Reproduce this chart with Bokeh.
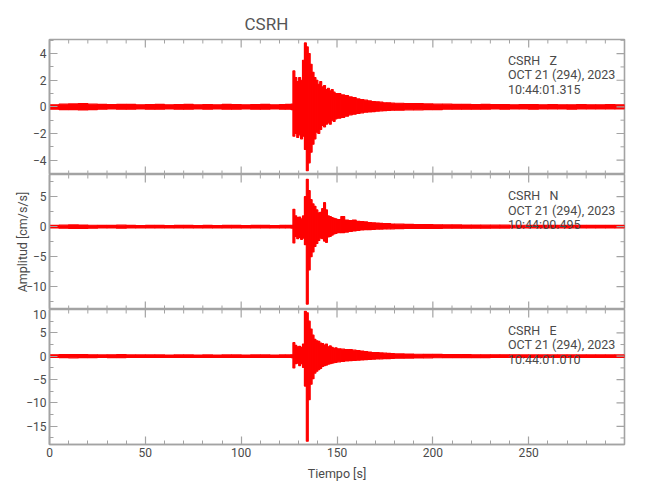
import math
from bokeh.plotting import figure
from bokeh.layouts import column
from bokeh.models import Range1d, FixedTicker, LinearAxis, Label, Title
from bokeh.embed import file_html
from bokeh.resources import INLINE

# ---------------- data (min / max envelope of each trace per time bin) ----------------
t_edges = [0, 5, 10, 15, 20, 25, 30, 35, 40, 45, 50, 55, 60, 65, 70, 75, 80, 85, 90, 95,
           100, 105, 110, 115, 120, 123, 126,
           127, 128, 129, 130, 131, 132, 133, 134, 135, 136, 137, 138, 139, 140, 141, 142,
           143, 144, 145, 146, 147, 148, 149, 150,
           152, 154, 156, 158, 160, 162, 164, 166, 168, 170, 172, 174, 176, 178, 180,
           185, 190, 195, 200, 205, 210, 215, 220, 225, 230, 235, 240, 245, 250, 255,
           260, 265, 270, 275, 280, 285, 290, 295, 300]

z_hi = [0.16, 0.2, 0.22, 0.24, 0.2, 0.18, 0.17, 0.19, 0.18, 0.16, 0.17, 0.18, 0.16, 0.17, 0.18, 0.16,
        0.17, 0.16, 0.18, 0.17, 0.16, 0.17, 0.18, 0.16,
        0.17, 0.18, 0.2,
        2.7, 2.2, 1.9, 2.2, 2.0, 3.5, 4.8, 4.5, 4.0, 3.2, 2.6, 2.2, 2.0, 1.7, 1.9, 1.5, 1.6, 1.3,
        1.4, 1.2, 1.3, 1.1, 1.0,
        1.0, 0.9, 0.85, 0.75, 0.7, 0.6, 0.55, 0.5, 0.45, 0.4, 0.38, 0.35, 0.3, 0.3, 0.28,
        0.27, 0.25, 0.24, 0.22, 0.2, 0.2, 0.18, 0.18, 0.17, 0.18, 0.17, 0.17, 0.16, 0.17, 0.17,
        0.16, 0.17, 0.16, 0.16, 0.17, 0.16, 0.16, 0.17, 0.16]
z_lo = [-0.17, -0.2, -0.21, -0.23, -0.2, -0.18, -0.16, -0.18, -0.17, -0.16, -0.18, -0.17, -0.16,
        -0.18, -0.17, -0.16, -0.17, -0.16, -0.17, -0.18, -0.16, -0.17, -0.17, -0.16,
        -0.17, -0.17, -0.2,
        -2.2, -2.0, -2.3, -2.1, -2.4, -2.2, -3.2, -4.8, -4.2, -3.4, -2.8, -2.4, -1.9, -2.0, -1.7,
        -1.4, -1.5, -1.3, -1.2, -1.3, -1.0, -1.1, -0.9,
        -0.85, -0.8, -0.7, -0.6, -0.55, -0.5, -0.45, -0.4, -0.38, -0.35, -0.32, -0.3, -0.28,
        -0.27, -0.25,
        -0.25, -0.22, -0.22, -0.2, -0.2, -0.18, -0.18, -0.17, -0.17, -0.17, -0.16, -0.17, -0.16,
        -0.16, -0.17, -0.16, -0.16, -0.16, -0.17, -0.16, -0.16, -0.16, -0.16, -0.16]

n_hi = [0.22, 0.25, 0.3, 0.28, 0.24, 0.22, 0.23, 0.25, 0.22, 0.2, 0.22, 0.21, 0.2, 0.22, 0.21, 0.2,
        0.22, 0.2, 0.21, 0.22, 0.2, 0.21, 0.22, 0.2,
        0.21, 0.22, 0.24,
        2.9, 1.8, 1.5, 1.6, 1.3, 1.8, 5.0, 7.9, 6.0, 4.5, 3.8, 3.4, 2.8, 2.3, 2.4, 3.0, 4.0, 2.8,
        1.8, 1.7, 1.5, 1.4, 1.3,
        1.2, 1.7, 1.1, 1.0, 1.1, 0.9, 0.85, 0.8, 0.7, 0.65, 0.6, 0.55, 0.5, 0.5, 0.45,
        0.42, 0.4, 0.37, 0.35, 0.32, 0.3, 0.3, 0.28, 0.27, 0.26, 0.25, 0.25, 0.24, 0.24, 0.23,
        0.23, 0.22, 0.23, 0.22, 0.22, 0.22, 0.21, 0.22, 0.21]
n_lo = [-0.22, -0.26, -0.28, -0.27, -0.24, -0.22, -0.22, -0.24, -0.21, -0.2, -0.22, -0.2, -0.21,
        -0.22, -0.2, -0.21, -0.22, -0.2, -0.21, -0.2, -0.21, -0.2, -0.22, -0.21,
        -0.2, -0.22, -0.23,
        -2.7, -1.6, -2.0, -1.8, -2.1, -1.9, -3.0, -12.9, -7.2, -5.0, -4.2, -3.3, -2.8, -2.3, -1.9,
        -2.0, -2.4, -2.6, -1.7, -1.6, -1.4, -1.2, -1.1,
        -1.0, -1.0, -0.9, -0.8, -0.7, -0.6, -0.55, -0.5, -0.5, -0.45, -0.4, -0.4, -0.38, -0.35,
        -0.35,
        -0.33, -0.3, -0.3, -0.28, -0.28, -0.26, -0.25, -0.25, -0.24, -0.24, -0.23, -0.23, -0.22,
        -0.22, -0.22, -0.21, -0.22, -0.21, -0.21, -0.21, -0.21, -0.2, -0.21, -0.2]

e_hi = [0.3, 0.32, 0.35, 0.33, 0.3, 0.28, 0.3, 0.32, 0.28, 0.27, 0.28, 0.27, 0.26, 0.28, 0.27, 0.26,
        0.28, 0.26, 0.27, 0.28, 0.26, 0.27, 0.28, 0.26,
        0.27, 0.28, 0.3,
        2.9, 2.3, 2.0, 2.1, 1.9, 2.6, 9.6, 9.3, 7.5, 5.8, 4.5, 3.6, 3.3, 3.2, 2.8, 2.7, 2.4, 2.6,
        2.0, 2.2, 1.9, 1.7, 1.8,
        1.6, 1.5, 1.4, 1.4, 1.3, 1.2, 1.1, 1.0, 0.9, 0.8, 0.75, 0.7, 0.65, 0.6, 0.55,
        0.5, 0.45, 0.42, 0.4, 0.38, 0.35, 0.33, 0.32, 0.31, 0.3, 0.3, 0.29, 0.29, 0.28, 0.28,
        0.28, 0.27, 0.28, 0.27, 0.27, 0.28, 0.27, 0.27, 0.27]
e_lo = [-0.28, -0.3, -0.34, -0.32, -0.3, -0.28, -0.29, -0.3, -0.27, -0.26, -0.28, -0.26, -0.27,
        -0.27, -0.26, -0.27, -0.27, -0.26, -0.27, -0.26, -0.27, -0.26, -0.27, -0.26,
        -0.27, -0.27, -0.3,
        -2.5, -1.6, -1.5, -2.0, -1.6, -2.4, -6.4, -18.2, -9.3, -6.0, -4.8, -3.6, -3.2, -2.9, -2.6,
        -2.2, -2.0, -1.9, -1.7, -1.6, -1.5, -1.4, -1.3,
        -1.2, -1.1, -1.0, -0.95, -0.9, -0.85, -0.8, -0.75, -0.7, -0.65, -0.6, -0.55, -0.5, -0.5,
        -0.45,
        -0.42, -0.4, -0.38, -0.35, -0.33, -0.32, -0.3, -0.3, -0.29, -0.29, -0.28, -0.28, -0.28,
        -0.27, -0.27, -0.27, -0.27, -0.27, -0.26, -0.27, -0.26, -0.27, -0.26, -0.26]

x_ticks = [0, 50, 100, 150, 200, 250]
x_minor = [10, 20, 30, 40, 60, 70, 80, 90, 110, 120, 130, 140, 160, 170, 180, 190,
           210, 220, 230, 240, 260, 270, 280, 290]

z_ticks = [-4, -2, 0, 2, 4]
z_minor = [-5, -3, -1, 1, 3, 5]
n_ticks = [-10, -5, 0, 5]
n_minor = [-12.5, -7.5, -2.5, 2.5, 7.5]
e_ticks = [-15, -10, -5, 0, 5, 10]
e_minor = [-17.5, -12.5, -7.5, -2.5, 2.5, 7.5]

station = "CSRH"
date_line = "OCT 21 (294), 2023"
components = ["Z", "N", "E"]
start_times = ["10:44:01.315", "10:44:00.495", "10:44:01.010"]

# ---------------- styling ----------------
FONT = "Roboto"
AX = "#a3a3a3"
TXT = "#4a4a4a"
RED = "#ff0000"
FW, FH = 575, 135        # frame size of each panel
XMAX = 299.99
XR = Range1d(0, XMAX)


def minus(v):
    return ("%g" % v).replace("-", "\u2212")


def ticks_on_edges(p, ymin, ymax, yt, ym, top_edge=True, bottom_edge=True):
    # inward tick marks on the frame edges that carry no labels
    kw = dict(length_units="screen", line_color=AX)
    if top_edge:
        p.ray(x=x_ticks, y=ymax, length=8, angle=-math.pi / 2, line_width=1.2, **kw)
        p.ray(x=x_minor, y=ymax, length=4, angle=-math.pi / 2, line_width=1.0, **kw)
    if bottom_edge:
        p.ray(x=x_ticks, y=ymin, length=8, angle=math.pi / 2, line_width=1.2, **kw)
        p.ray(x=x_minor, y=ymin, length=4, angle=math.pi / 2, line_width=1.0, **kw)
    p.ray(x=XMAX, y=yt, length=8, angle=math.pi, line_width=1.2, **kw)
    p.ray(x=XMAX, y=ym, length=4, angle=math.pi, line_width=1.0, **kw)


def style_axis(ax):
    ax.axis_line_color = AX
    ax.axis_line_width = 1.6
    ax.major_tick_line_color = AX
    ax.minor_tick_line_color = AX
    ax.major_tick_line_width = 1.2
    ax.minor_tick_line_width = 1.0
    ax.major_tick_in = 8
    ax.major_tick_out = 0
    ax.minor_tick_in = 4
    ax.minor_tick_out = 0
    ax.major_label_text_font = FONT
    ax.major_label_text_font_size = "12px"
    ax.major_label_text_color = TXT
    ax.major_label_standoff = 3


def panel(hi, lo, ymin, ymax, yt, ym, comp, tstart, text_y, top=False, bottom=False, ylabel=None):
    p = figure(frame_width=FW, frame_height=FH, x_range=XR, y_range=Range1d(ymin, ymax),
               x_axis_location=None, y_axis_location=None, toolbar_location=None,
               output_backend="svg", min_border_left=33, min_border_right=8,
               min_border_top=39 if top else 0, min_border_bottom=38 if bottom else 0)
    p.outline_line_color = AX
    p.outline_line_width = 1.6
    p.xgrid.visible = False
    p.ygrid.visible = False
    p.background_fill_color = "white"
    p.border_fill_color = "white"

    left = LinearAxis(ticker=FixedTicker(ticks=yt, minor_ticks=ym))
    style_axis(left)
    left.major_label_overrides = {v: minus(v) for v in yt}
    if ylabel:
        left.axis_label = ylabel
        left.axis_label_text_font = FONT
        left.axis_label_text_font_size = "12.5px"
        left.axis_label_text_font_style = "normal"
        left.axis_label_text_color = TXT
        left.axis_label_standoff = -7
    p.add_layout(left, "left")

    if bottom:
        below = LinearAxis(ticker=FixedTicker(ticks=x_ticks, minor_ticks=x_minor))
        style_axis(below)
        below.axis_label = "Tiempo [s]"
        below.axis_label_text_font = FONT
        below.axis_label_text_font_size = "12.5px"
        below.axis_label_text_font_style = "normal"
        below.axis_label_text_color = TXT
        below.axis_label_standoff = 6
        p.add_layout(below, "below")

    p.quad(left=t_edges[:-1], right=t_edges[1:], bottom=lo, top=hi,
           fill_color=RED, line_color=RED, line_width=1.2)

    ticks_on_edges(p, ymin, ymax, yt, ym, top_edge=True, bottom_edge=not bottom)

    for txt, yy in zip([station + "\u00a0\u00a0\u00a0" + comp, date_line, tstart], text_y):
        p.add_layout(Label(x=239.2, y=yy, text=txt, text_font=FONT, text_font_size="12.5px",
                           text_color=TXT, text_baseline="middle", text_align="left"))

    if top:
        p.title = Title(text=station, align="left", offset=195, text_font=FONT,
                        text_font_size="17px", text_font_style="normal", text_color="#555555",
                        standoff=11)
    return p


p1 = panel(z_hi, z_lo, -5.08, 5.06, z_ticks, z_minor, components[0], start_times[0],
           [3.5, 2.42, 1.3], top=True)
p2 = panel(n_hi, n_lo, -13.8, 8.7, n_ticks, n_minor, components[1], start_times[1],
           [5.2, 2.67, 0.33], ylabel="Amplitud [cm/s/s]")
p3 = panel(e_hi, e_lo, -18.9, 10.0, e_ticks, e_minor, components[2], start_times[2],
           [5.5, 2.44, -0.81], bottom=True)

layout = column(p1, p2, p3, spacing=0, margin=(0, 0, 0, 12))
open("out.html", "w").write(file_html(layout, INLINE))
